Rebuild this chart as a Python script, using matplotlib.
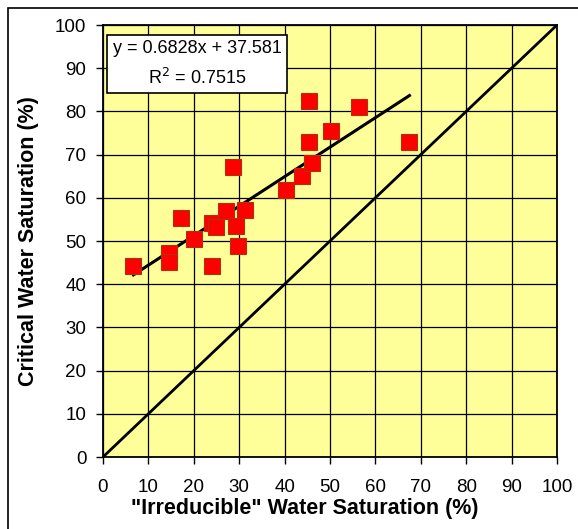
import matplotlib.pyplot as plt
from matplotlib.patches import Rectangle

plt.rcParams['font.family'] = ['Liberation Sans', 'DejaVu Sans']

# irreducible vs critical water saturation (%)
sw_irr = [6.7, 14.5, 14.5, 17.2, 20.0, 24.0, 24.0, 24.8, 27.2, 28.7, 29.4,
          29.8, 31.2, 40.4, 43.9, 46.1, 45.4, 45.4, 50.2, 56.3, 67.5]
sw_crit = [44.3, 47.2, 45.2, 55.3, 50.4, 44.3, 54.1, 53.2, 57.0, 67.2, 53.5,
           48.8, 57.2, 61.8, 65.0, 68.1, 73.0, 82.5, 75.5, 81.1, 73.0]

slope = 0.6828
intercept = 37.581
r2 = 0.7515

ticks = list(range(0, 101, 10))

fig = plt.figure(figsize=(5.78, 5.29), dpi=100)
ax = fig.add_axes([103 / 578, 1 - 457 / 529, 454 / 578, 432 / 529])
ax.set_facecolor('#FFFF99')

# border around the chart area
fig.patches.append(Rectangle((8 / 578, -0.05), 1.0, 1 - 8 / 529 + 0.05,
                             transform=fig.transFigure, fill=False,
                             edgecolor='black', linewidth=1.2))

ax.grid(True, color='black', linewidth=0.9)
ax.set_axisbelow(True)

# 1:1 line
ax.plot([0, 100], [0, 100], color='black', linewidth=2, zorder=3)

# fitted trend
xf = [min(sw_irr), max(sw_irr)]
ax.plot(xf, [slope * v + intercept for v in xf], color='black', linewidth=2.2, zorder=4)

ax.plot(sw_irr, sw_crit, 's', markersize=11.5, markerfacecolor='#FF0000',
        markeredgecolor='#B03010', markeredgewidth=0.8, zorder=5)

ax.set_xlim(0, 100)
ax.set_ylim(0, 100)
ax.set_xticks(ticks)
ax.set_yticks(ticks)
ax.tick_params(direction='out', length=5, width=1, labelsize=13.5)
ax.tick_params(axis='x', pad=11)
ax.tick_params(axis='y', pad=7)
for s in ax.spines.values():
    s.set_linewidth(1.3)

ax.set_xlabel('"Irreducible" Water Saturation (%)', fontsize=15.5,
              fontweight='bold')
ax.set_ylabel('Critical Water Saturation (%)', fontsize=15.5,
              fontweight='bold')
ax.xaxis.set_label_coords((305 - 103) / 454, -(498 - 457) / 432)
ax.yaxis.set_label_coords(-(103 - 39) / 454, 0.5)

ax.text(0.207, 0.91, f'y = {slope}x + {intercept}\nR$^2$ = {r2}',
        transform=ax.transAxes, ha='center', va='center', fontsize=13,
        linespacing=1.65, zorder=6,
        bbox=dict(boxstyle='square,pad=0.3', facecolor='white',
                  edgecolor='black', linewidth=1.2))

fig.savefig('out.png', dpi=100)
